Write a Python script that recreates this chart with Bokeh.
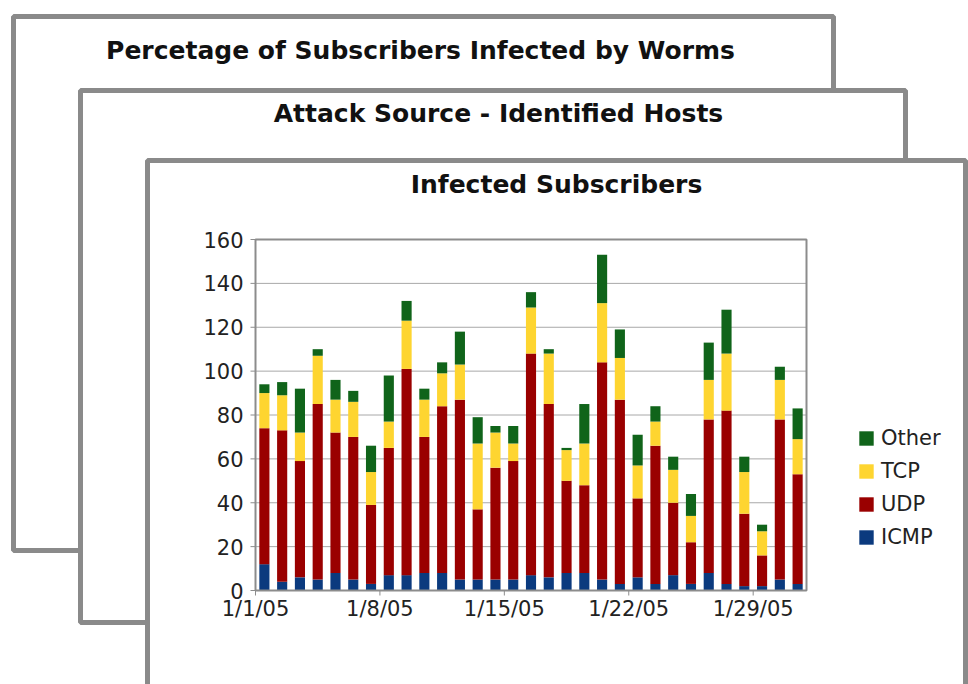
from bokeh.plotting import figure
from bokeh.models import (Legend, LegendItem, ColumnDataSource, Range1d)
from bokeh.core.properties import value
from bokeh.embed import file_html
from bokeh.resources import INLINE

# ---- data -------------------------------------------------------------
days = [f"1/{d}/05" for d in range(1, 32)]
icmp = [12, 4, 6, 5, 8, 5, 3, 7, 7, 8, 8, 5, 5, 5, 5, 7, 6, 8, 8, 5, 3, 6, 3, 7, 3, 8, 3, 2, 2, 5, 3]
udp = [62, 69, 53, 80, 64, 65, 36, 58, 94, 62, 76, 82, 32, 51, 54, 101, 79, 42, 40, 99, 84, 36, 63, 33, 19, 70, 79, 33, 14, 73, 50]
tcp = [16, 16, 13, 22, 15, 16, 15, 12, 22, 17, 15, 16, 30, 16, 8, 21, 23, 14, 19, 27, 19, 15, 11, 15, 12, 18, 26, 19, 11, 18, 16]
other = [4, 6, 20, 3, 9, 5, 12, 21, 9, 5, 5, 15, 12, 3, 8, 7, 2, 1, 18, 22, 13, 14, 7, 6, 10, 17, 20, 7, 3, 6, 14]
series = ["ICMP", "UDP", "TCP", "Other"]
colors = ["#0b3a7e", "#9a0000", "#fed530", "#10641a"]
x_tick_labels = ["1/1/05", "1/8/05", "1/15/05", "1/22/05", "1/29/05"]
y_ticks = [0, 20, 40, 60, 80, 100, 120, 140, 160]
card_titles = ["Percetage of Subscribers Infected by Worms",
               "Attack Source - Identified Hosts",
               "Infected Subscribers"]

FONT = "DejaVu Sans"
W, H = 968, 684
# chart plot-area placement on the page (pixels)
FL, FR, FT, FB = 255, 806, 239, 590
n = len(days)
ymax = y_ticks[-1]

source = ColumnDataSource(dict(idx=list(range(n)), day=days,
                               ICMP=icmp, UDP=udp, TCP=tcp, Other=other))

# page canvas: x right, y down in pixels
p = figure(width=W, height=H, x_range=Range1d(0, W), y_range=Range1d(H, 0),
           output_backend="svg", toolbar_location=None,
           x_axis_type=None, y_axis_type=None, min_border=0,
           background_fill_color="white", border_fill_color="white")
p.outline_line_color = None
p.grid.visible = False

# data ranges mapped onto the plot-area of the chart
per_x = (FR - FL) / n
per_y = (FB - FT) / ymax
p.extra_x_ranges = {"days": Range1d(-0.5 - FL / per_x, n - 0.5 + (W - FR) / per_x)}
p.extra_y_ranges = {"val": Range1d(-(H - FB) / per_y, ymax + FT / per_y)}
D = dict(x_range_name="days", y_range_name="val")

# ---- background cards -------------------------------------------------
cards = [(13, 833, 16, 550), (80, 905, 90, 622), (147, 965, 160, 720)]
title_pos = [(420, 50), (498, 113), (556, 184)]
for (l, r, t, b), txt, (tx, ty) in zip(cards, card_titles, title_pos):
    p.quad(left=[l], right=[r], top=[t], bottom=[b], fill_color="white",
           line_color="#8a8a8a", line_width=5)
    p.text(x=[tx], y=[ty], text=[txt], text_align="center", text_baseline="middle",
           text_font=value(FONT), text_font_style="bold", text_font_size="25px",
           text_color="#111111")

# ---- chart: gridlines ---------------------------------------------------
p.segment(x0=[-0.5] * len(y_ticks), x1=[n - 0.5] * len(y_ticks), y0=y_ticks, y1=y_ticks,
          line_color="#a8a8a8", line_width=1, **D)

# ---- bars --------------------------------------------------------------
renderers = p.vbar_stack(series, x="idx", width=0.57, color=colors,
                         line_color=None, source=source, **D)

# frame outline
p.quad(left=[-0.5], right=[n - 0.5], bottom=[0], top=[ymax], fill_color=None,
       line_color="#8c8c8c", line_width=2, **D)

# ---- y axis -------------------------------------------------------------
p.ray(x=[-0.5] * len(y_ticks), y=y_ticks, length=5, angle=3.14159265, angle_units="rad",
      length_units="screen", line_color="#8c8c8c", line_width=1, **D)
p.text(x=[-0.5] * len(y_ticks), y=y_ticks, text=[str(v) for v in y_ticks],
       x_offset=-12, text_align="right", text_baseline="middle",
       text_font=value(FONT), text_font_size="21px", text_color="#222222", **D)

# ---- x axis -------------------------------------------------------------
x_tick_pos = [days.index(l) - 0.5 for l in x_tick_labels]
p.ray(x=x_tick_pos, y=[0] * len(x_tick_pos), length=5, angle=-1.5707963, angle_units="rad",
      length_units="screen", line_color="#8c8c8c", line_width=1, **D)
p.text(x=x_tick_pos, y=[0] * len(x_tick_pos), text=x_tick_labels, y_offset=6,
       text_align="center", text_baseline="top",
       text_font=value(FONT), text_font_size="21px", text_color="#222222", **D)

# ---- legend -------------------------------------------------------------
items = [LegendItem(label=s, renderers=[r]) for s, r in zip(series, renderers)][::-1]
legend = Legend(items=items, location=(857, 684 - 549), glyph_width=18, glyph_height=18,
                label_text_font=FONT, label_text_font_size="21px",
                label_text_color="#222222", label_height=22, spacing=9,
                label_standoff=6, padding=0, margin=0,
                border_line_color=None, background_fill_alpha=0)
p.add_layout(legend)

open("out.html", "w").write(file_html(p, INLINE))
